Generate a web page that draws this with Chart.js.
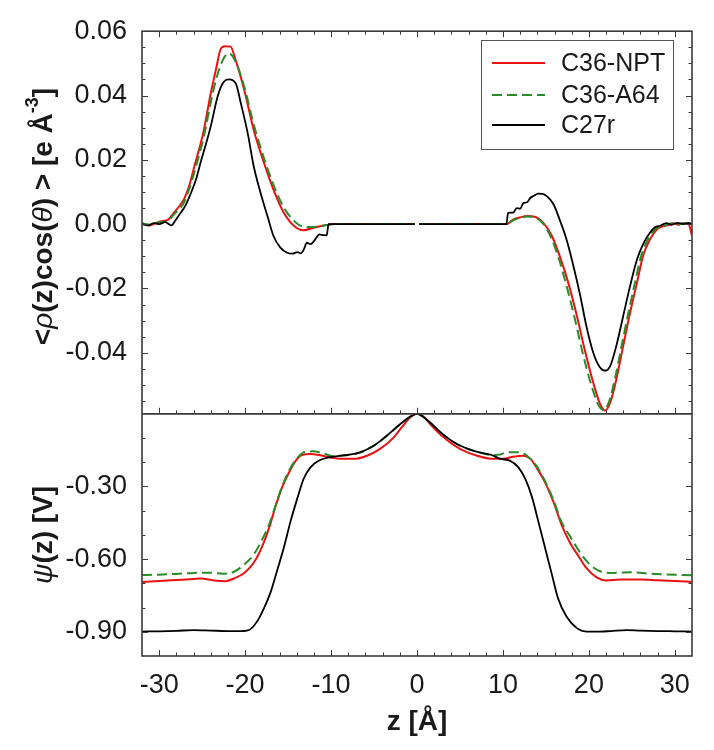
<!DOCTYPE html>
<html>
<head>
<meta charset="utf-8">
<script src="https://cdn.jsdelivr.net/npm/chart.js@4.4.1/dist/chart.umd.min.js"></script>
<style>
  body { margin: 0; background: #fff; }
</style>
</head>
<body>
<canvas id="myChart" width="714" height="750"></canvas>
<script>
// series names (legend order)
const seriesNames = ["C36-NPT", "C36-A64", "C27r"];

// tick labels
const xTicks = [-30, -20, -10, 0, 10, 20, 30];
const rhoTicks = [-0.04, -0.02, 0.00, 0.02, 0.04, 0.06];
const psiTicks = [-0.90, -0.60, -0.30];

// top panel: <rho(z)cos(theta)> , pairs [z, value]
const rhoNPT = [[-32, 0.0003], [-31.2, -0.0004], [-30.5, 0.0002], [-29.8, 0.0009], [-29.0, 0.0013],
  [-28.3, 0.0035], [-27.6, 0.0058], [-27.1, 0.0078], [-26.5, 0.012], [-25.9, 0.018],
  [-25.3, 0.0238], [-24.8, 0.0293], [-24.0, 0.0407], [-23.4, 0.048], [-22.8, 0.0547],
  [-22.3, 0.0553], [-21.7, 0.0552], [-21.1, 0.051], [-20.1, 0.0417], [-19.0, 0.0293],
  [-17.8, 0.019], [-16.7, 0.0107], [-15.5, 0.0035], [-14.3, -0.0006], [-13.2, -0.0019],
  [-12.0, -0.0011], [-10.5, -0.0003], [-9.6, 0], [-5, 0], [-0.25, 0], [0, null], [0.25, 0],
  [5, 0], [9.6, 0], [10.4, 0], [11.2, 0.0014], [12.0, 0.0021], [12.8, 0.0025], [13.7, 0.0023],
  [14.7, 0.0004], [15.7, -0.0037], [16.6, -0.0099], [17.6, -0.0182], [18.6, -0.0285],
  [19.5, -0.0389], [20.5, -0.0492], [21.3, -0.0559], [21.9, -0.058], [22.5, -0.0554],
  [23.2, -0.0482], [24.0, -0.0378], [24.8, -0.0275], [25.6, -0.0182], [26.3, -0.0099],
  [27.1, -0.0048], [27.9, -0.0017], [28.5, -0.0008], [29.2, -0.0003], [29.8, 0.0003],
  [30.4, -0.0002], [31.0, 0.0003], [31.6, 0], [32, -0.0035]];

const rhoA64 = [[-32, 0.0002], [-31, -0.0002], [-30, 0.0006], [-29, 0.001], [-28.3, 0.003],
  [-27.6, 0.0048], [-27.1, 0.0068], [-26.5, 0.011], [-25.9, 0.0162], [-25.3, 0.022],
  [-24.8, 0.0272], [-24.0, 0.0378], [-23.4, 0.0448], [-22.6, 0.051], [-21.9, 0.0532],
  [-21.1, 0.0505], [-20.1, 0.0427], [-19.0, 0.031], [-17.8, 0.0205], [-16.7, 0.0122],
  [-15.5, 0.0052], [-14.3, 0.001], [-13.2, -0.0008], [-12.0, -0.0009], [-10.5, -0.0003],
  [-9.6, 0], [-5, 0], [-0.25, 0], [0, null], [0.25, 0], [5, 0], [9.6, 0], [10.4, 0],
  [11.2, 0.0012], [12.0, 0.0019], [12.8, 0.0024], [13.7, 0.0021], [14.7, 0.0001],
  [15.6, -0.0042], [16.5, -0.0107], [17.4, -0.0192], [18.4, -0.0298], [19.3, -0.0403],
  [20.3, -0.0502], [21.1, -0.0562], [21.7, -0.0578], [22.3, -0.0556], [23.0, -0.0485],
  [23.8, -0.038], [24.6, -0.0275], [25.4, -0.0178], [26.1, -0.0097], [26.9, -0.0046],
  [27.7, -0.0016], [28.8, -0.0004], [29.5, 0.0002], [30.3, -0.0002], [31.0, 0.0003], [32, 0]];

const rhoC27r = [[-32, 0], [-31.3, -0.0004], [-30.6, 0.0003], [-30.0, 0], [-29.3, 0.0006],
  [-28.6, -0.0004], [-28.1, 0.0012], [-27.5, 0.0035], [-26.9, 0.006], [-26.3, 0.0097],
  [-25.7, 0.014], [-25.2, 0.019], [-24.6, 0.0245], [-24.0, 0.0304], [-23.2, 0.0397],
  [-22.6, 0.0438], [-21.9, 0.045], [-21.1, 0.0438], [-20.5, 0.0376], [-19.7, 0.0283],
  [-19.0, 0.018], [-18.2, 0.0097], [-17.4, 0.0025], [-16.7, -0.0037], [-15.9, -0.0073],
  [-15.1, -0.0089], [-14.5, -0.0092], [-13.9, -0.0087], [-13.5, -0.0091], [-13.2, -0.008],
  [-12.8, -0.0058], [-12.4, -0.0062], [-12.0, -0.0053], [-11.6, -0.0038], [-11.4, -0.0032],
  [-10.9, -0.0034], [-10.5, -0.0035], [-10.3, 0], [-5, 0], [-0.25, 0], [0, null], [0.25, 0],
  [5, 0], [10.4, 0], [10.6, 0.0035], [11.2, 0.0036], [11.6, 0.005], [12.0, 0.0048],
  [12.4, 0.0066], [12.8, 0.0068], [13.2, 0.0082], [13.6, 0.0088], [14.1, 0.0095],
  [14.6, 0.0094], [15.1, 0.0087], [15.5, 0.0076], [15.9, 0.0061], [16.6, 0.0014],
  [17.4, -0.0048], [18.2, -0.013], [19.0, -0.0223], [19.7, -0.0316], [20.5, -0.0399],
  [21.3, -0.0446], [21.9, -0.0456], [22.5, -0.044], [23.2, -0.0378], [24.0, -0.0285],
  [24.8, -0.0192], [25.6, -0.011], [26.3, -0.0063], [27.1, -0.0027], [27.7, -0.001],
  [28.3, -0.0005], [29.0, 0.0003], [29.6, -0.0002], [30.3, 0.0004], [31.0, 0], [31.6, 0.0004], [32, 0]];

// bottom panel: psi(z) in V, pairs [z, value]
const psiNPT = [[-32, -0.694], [-30, -0.690], [-28, -0.686], [-26, -0.682], [-25.2, -0.680],
  [-23.6, -0.688], [-22.3, -0.691], [-21.3, -0.680], [-20.1, -0.657], [-19.0, -0.615],
  [-18.0, -0.546], [-17.2, -0.470], [-16.5, -0.387], [-15.7, -0.304], [-14.9, -0.242],
  [-14.1, -0.193], [-13.4, -0.170], [-12.4, -0.166], [-11.4, -0.170], [-10.1, -0.180],
  [-8.9, -0.186], [-7.4, -0.186], [-5.8, -0.173], [-4.3, -0.145], [-2.7, -0.097],
  [-1.6, -0.048], [-0.7, -0.012], [0, 0], [0.8, -0.012], [1.6, -0.045], [3.1, -0.097],
  [5.0, -0.145], [7.0, -0.173], [8.9, -0.186], [10.0, -0.186], [11.2, -0.177],
  [12.4, -0.173], [13.2, -0.186], [13.9, -0.221], [14.9, -0.283], [15.9, -0.366],
  [16.8, -0.456], [17.8, -0.532], [18.8, -0.588], [19.7, -0.636], [20.9, -0.675],
  [22.1, -0.688], [23.6, -0.684], [25.9, -0.684], [28, -0.687], [30, -0.690], [32, -0.694]];

const psiA64 = [[-32, -0.666], [-30, -0.664], [-28, -0.661], [-26, -0.657], [-24, -0.656],
  [-22.5, -0.660], [-21.3, -0.652], [-20.1, -0.622], [-19.0, -0.581], [-18.0, -0.518],
  [-17.2, -0.456], [-16.5, -0.383], [-15.7, -0.300], [-14.9, -0.235], [-14.1, -0.190],
  [-13.2, -0.159], [-12.1, -0.155], [-10.7, -0.166], [-9.7, -0.175], [-8.9, -0.173],
  [-8.1, -0.170], [-6.6, -0.159], [-5.0, -0.131], [-3.5, -0.090], [-1.9, -0.041],
  [-0.8, -0.012], [0, 0], [1.0, -0.020], [2.1, -0.055], [3.2, -0.090], [4.8, -0.128],
  [6.8, -0.155], [8.7, -0.170], [9.7, -0.168], [10.4, -0.159], [12.0, -0.159],
  [12.8, -0.173], [13.9, -0.215], [14.9, -0.278], [15.9, -0.358], [16.8, -0.445],
  [17.8, -0.505], [19.0, -0.574], [20.1, -0.622], [21.3, -0.650], [22.8, -0.657],
  [25.1, -0.654], [27, -0.660], [29, -0.663], [32, -0.667]];

const psiC27r = [[-32, -0.899], [-30, -0.898], [-28, -0.896], [-26, -0.893], [-24, -0.895],
  [-22, -0.897], [-20.5, -0.897], [-19.8, -0.895], [-19.4, -0.890], [-18.6, -0.857],
  [-17.8, -0.802], [-17.0, -0.733], [-16.3, -0.650], [-15.5, -0.553], [-14.7, -0.442],
  [-13.9, -0.346], [-13.2, -0.269], [-12.4, -0.221], [-11.4, -0.193], [-10.3, -0.180],
  [-8.9, -0.173], [-8.1, -0.170], [-6.6, -0.159], [-5.0, -0.131], [-3.5, -0.090],
  [-1.9, -0.041], [-0.8, -0.012], [0, 0], [1.0, -0.020], [2.1, -0.055], [3.2, -0.090],
  [4.8, -0.128], [6.8, -0.155], [8.7, -0.170], [9.7, -0.186], [10.8, -0.193],
  [11.8, -0.221], [12.6, -0.269], [13.4, -0.346], [14.1, -0.442], [14.9, -0.553],
  [15.7, -0.664], [16.4, -0.761], [17.4, -0.837], [18.6, -0.885], [19.7, -0.899],
  [21.3, -0.899], [22.5, -0.897], [24.4, -0.893], [26, -0.895], [28, -0.897],
  [30, -0.898], [32, -0.899]];

const colNPT = "rgb(232, 18, 18)";
const colA64 = "rgb(40, 140, 40)";
const colC27r = "#000000";
const axisColor = "#3a3a3a";
const textColor = "#1a1a1a";

function toPoints(pairs) {
    return pairs.map((p) => ({ x: p[0], y: p[1] }));
}

// datasets: first one is drawn on top
const datasets = [
    { label: seriesNames[2], data: toPoints(rhoC27r), yAxisID: "yRho", borderColor: colC27r, borderWidth: 1.8 },
    { label: seriesNames[1], data: toPoints(rhoA64), yAxisID: "yRho", borderColor: colA64, borderWidth: 2, borderDash: [10, 5] },
    { label: seriesNames[0], data: toPoints(rhoNPT), yAxisID: "yRho", borderColor: colNPT, borderWidth: 2 },
    { label: seriesNames[2], data: toPoints(psiC27r), yAxisID: "yPsi", borderColor: colC27r, borderWidth: 1.8 },
    { label: seriesNames[1], data: toPoints(psiA64), yAxisID: "yPsi", borderColor: colA64, borderWidth: 2, borderDash: [10, 5] },
    { label: seriesNames[0], data: toPoints(psiNPT), yAxisID: "yPsi", borderColor: colNPT, borderWidth: 2 },
];
datasets.forEach((d) => {
    d.pointRadius = 0;
    d.cubicInterpolationMode = "monotone";
    d.fill = false;
    d.spanGaps = false;
});

// rotated axis title with mixed fonts
function drawRotatedTitle(ctx, parts, cx, cy) {
    ctx.save();
    ctx.translate(cx, cy);
    ctx.rotate(-Math.PI / 2);
    ctx.textBaseline = "middle";
    ctx.textAlign = "left";
    ctx.fillStyle = textColor;
    let total = 0;
    parts.forEach((p) => {
        ctx.font = p.font;
        total += ctx.measureText(p.text).width;
    });
    let x = -total / 2;
    parts.forEach((p) => {
        ctx.font = p.font;
        ctx.fillText(p.text, x, p.dy || 0);
        x += ctx.measureText(p.text).width;
    });
    ctx.restore();
}

const boldFont = 'bold 28px "Liberation Sans", Arial, sans-serif';
const greekFont = 'italic 28px "Liberation Sans", Arial, sans-serif';
const supFont = 'bold 18px "Liberation Sans", Arial, sans-serif';

const framePlugin = {
    id: "frame",
    afterDatasetsDraw(chart) {
        const ctx = chart.ctx;
        const area = chart.chartArea;
        const sx = chart.scales.x;
        const yRho = chart.scales.yRho;
        const yPsi = chart.scales.yPsi;

        function seg(x1, y1, x2, y2) {
            ctx.beginPath();
            ctx.moveTo(x1, y1);
            ctx.lineTo(x2, y2);
            ctx.stroke();
        }

        ctx.save();
        ctx.strokeStyle = axisColor;
        ctx.lineWidth = 1;

        // x ticks (inward) on top, middle and bottom edges
        for (let v = -30; v <= 30; v += 2) {
            const len = v % 10 === 0 ? 6 : 3.5;
            const px = Math.round(sx.getPixelForValue(v)) + 0.5;
            seg(px, yRho.top, px, yRho.top + len);
            seg(px, yRho.bottom, px, yRho.bottom - len);
            seg(px, yPsi.bottom, px, yPsi.bottom - len);
        }
        // top panel y ticks
        for (let k = -11; k <= 11; k++) {
            const len = k % 4 === 0 ? 6 : 3.5;
            const py = Math.round(yRho.getPixelForValue(k * 0.005)) + 0.5;
            seg(area.left, py, area.left + len, py);
            seg(area.right, py, area.right - len, py);
        }
        // bottom panel y ticks
        for (let k = -9; k <= -1; k++) {
            const len = k % 3 === 0 ? 6 : 3.5;
            const py = Math.round(yPsi.getPixelForValue(k * 0.1)) + 0.5;
            seg(area.left, py, area.left + len, py);
            seg(area.right, py, area.right - len, py);
        }

        // frame and panel divider
        ctx.lineWidth = 1.6;
        ctx.strokeRect(area.left, area.top, area.right - area.left, area.bottom - area.top);
        seg(area.left, yRho.bottom, area.right, yRho.bottom);

        // legend box
        ctx.lineWidth = 1;
        ctx.strokeStyle = "#555";
        ctx.fillStyle = "#fff";
        ctx.fillRect(481, 40, 192, 109);
        ctx.strokeRect(481.5, 40.5, 192, 109);
        const rows = [
            { y: 63, color: colNPT, dash: [], w: 2 },
            { y: 95, color: colA64, dash: [10, 5], w: 2 },
            { y: 125, color: colC27r, dash: [], w: 1.8 },
        ];
        ctx.font = '25px "Liberation Sans", Arial, sans-serif';
        ctx.textBaseline = "middle";
        ctx.textAlign = "left";
        rows.forEach((r, i) => {
            ctx.strokeStyle = r.color;
            ctx.lineWidth = r.w;
            ctx.setLineDash(r.dash);
            seg(492, r.y, 545, r.y);
            ctx.setLineDash([]);
            ctx.fillStyle = textColor;
            ctx.fillText(seriesNames[i], 561, r.y + 1);
        });
        ctx.restore();

        // y axis titles
        drawRotatedTitle(ctx, [
            { text: "<", font: boldFont },
            { text: "ρ", font: greekFont },
            { text: "(z)cos(", font: boldFont },
            { text: "θ", font: greekFont },
            { text: ") > [e Å", font: boldFont },
            { text: "-3", font: supFont, dy: -11 },
            { text: "]", font: boldFont },
        ], 44, (yRho.top + yRho.bottom) / 2 - 6);
        drawRotatedTitle(ctx, [
            { text: "ψ", font: greekFont },
            { text: "(z) [V]", font: boldFont },
        ], 44, (yPsi.top + yPsi.bottom) / 2);
    },
};

const tickFont = { family: '"Liberation Sans", Arial, sans-serif', size: 27 };

const ctx = document.getElementById("myChart").getContext("2d");
const chart = new Chart(ctx, {
    type: "line",
    data: { datasets: datasets },
    options: {
        responsive: false,
        animation: false,
        layout: { padding: { top: 27, right: 22, left: 0, bottom: 0 } },
        plugins: {
            legend: { display: false },
            tooltip: { enabled: false },
        },
        scales: {
            x: {
                type: "linear",
                position: "bottom",
                min: -32,
                max: 32,
                grid: { display: false, drawTicks: false },
                border: { display: false },
                afterBuildTicks: (scale) => {
                    scale.ticks = xTicks.map((v) => ({ value: v }));
                },
                afterFit: (scale) => {
                    scale.height = 94;
                },
                ticks: {
                    font: tickFont,
                    color: textColor,
                    padding: 13,
                    maxRotation: 0,
                    callback: (v) => String(v),
                },
                title: {
                    display: true,
                    text: "z [Å]",
                    color: textColor,
                    font: { family: '"Liberation Sans", Arial, sans-serif', size: 28, weight: "bold" },
                    padding: { top: 0, bottom: 11 },
                },
            },
            yPsi: {
                type: "linear",
                position: "left",
                stack: "panels",
                stackWeight: 1,
                min: -1.0,
                max: 0.0,
                grid: { display: false, drawTicks: false },
                border: { display: false },
                afterBuildTicks: (scale) => {
                    scale.ticks = psiTicks.map((v) => ({ value: v }));
                },
                afterFit: (scale) => {
                    scale.width = 142;
                },
                ticks: {
                    font: tickFont,
                    color: textColor,
                    padding: 15,
                    callback: (v) => v.toFixed(2),
                },
            },
            yRho: {
                type: "linear",
                position: "left",
                stack: "panels",
                stackWeight: 1.58,
                min: -0.059,
                max: 0.06,
                grid: { display: false, drawTicks: false },
                border: { display: false },
                afterBuildTicks: (scale) => {
                    scale.ticks = rhoTicks.map((v) => ({ value: v }));
                },
                afterFit: (scale) => {
                    scale.width = 142;
                },
                ticks: {
                    font: tickFont,
                    color: textColor,
                    padding: 15,
                    callback: (v) => v.toFixed(2),
                },
            },
        },
    },
    plugins: [framePlugin],
});
</script>
</body>
</html>
